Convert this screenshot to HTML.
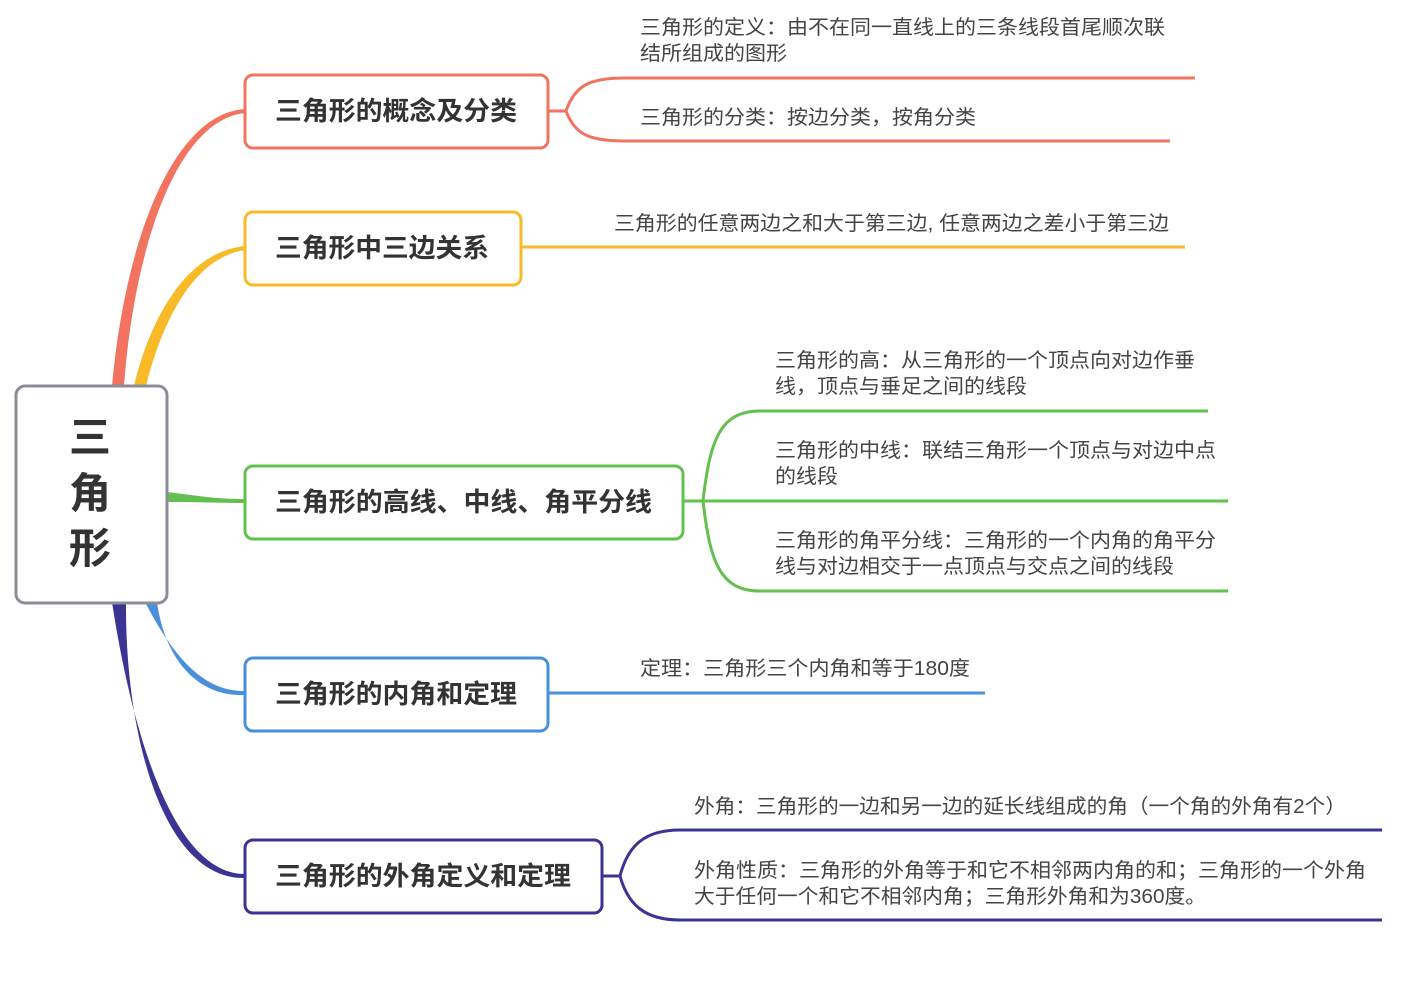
<!DOCTYPE html>
<html><head><meta charset="utf-8"><style>html,body{margin:0;padding:0;background:#fff}svg{display:block}</style></head><body>
<svg width="1402" height="988" viewBox="0 0 1402 988" xmlns="http://www.w3.org/2000/svg">
<style>
.t{font-family:"Liberation Sans","Noto Sans CJK SC",sans-serif;font-weight:bold;fill:#333;font-size:26px}
.d{font-family:"Liberation Sans","Noto Sans CJK SC",sans-serif;fill:#444;font-size:20px}
</style>
<!-- main connectors -->
<path d="M112,386 C124,250 170,114 245,109 L245,113 C176,120 134,250 124,386 Z" fill="#F2735F"/>
<path d="M134,386 C150,320 185,252 245,246 L245,250 C190,258 160,330 146,386 Z" fill="#F9BA27"/>
<path d="M167,492 C200,496 215,499 245,499 L245,503 C215,503 200,502 167,502 Z" fill="#63C04E"/>
<path d="M145,602 C170,650 200,692 245,691 L245,695 C198,697 165,660 157,602 Z" fill="#4A8FDB"/>
<path d="M112,602 C130,720 170,874 245,874 L245,878 C165,880 125,740 126,602 Z" fill="#3B3494"/>
<!-- root -->
<rect x="16" y="386" width="151" height="217" rx="9" fill="#fff" stroke="#8c8c99" stroke-width="3"/>
<text class="t" x="90" y="452" text-anchor="middle" style="font-size:42px">三</text>
<text class="t" x="90" y="508" text-anchor="middle" style="font-size:42px">角</text>
<text class="t" x="90" y="563" text-anchor="middle" style="font-size:42px">形</text>
<!-- branch boxes -->
<rect x="245" y="75" width="303" height="73" rx="8" fill="#fff" stroke="#F2735F" stroke-width="3"/>
<text class="t" x="275" y="120" textLength="242" lengthAdjust="spacingAndGlyphs">三角形的概念及分类</text>
<rect x="245" y="212" width="276" height="73" rx="8" fill="#fff" stroke="#F9BA27" stroke-width="3"/>
<text class="t" x="275" y="257" textLength="214" lengthAdjust="spacingAndGlyphs">三角形中三边关系</text>
<rect x="245" y="466" width="438" height="73" rx="8" fill="#fff" stroke="#63C04E" stroke-width="3"/>
<text class="t" x="275" y="511" textLength="377" lengthAdjust="spacingAndGlyphs">三角形的高线、中线、角平分线</text>
<rect x="245" y="658" width="303" height="73" rx="8" fill="#fff" stroke="#4A8FDB" stroke-width="3"/>
<text class="t" x="275" y="703" textLength="242" lengthAdjust="spacingAndGlyphs">三角形的内角和定理</text>
<rect x="245" y="840" width="357" height="73" rx="8" fill="#fff" stroke="#3B3494" stroke-width="3"/>
<text class="t" x="275" y="885" textLength="296" lengthAdjust="spacingAndGlyphs">三角形的外角定义和定理</text>
<!-- red sub -->
<g fill="none" stroke="#F2735F" stroke-width="3">
<path d="M549,111 H566 C575,85 590,78 625,78 H1195"/>
<path d="M566,111 C575,135 590,141 625,141 H1170"/>
</g>
<text class="d" x="640" y="34" textLength="525" lengthAdjust="spacingAndGlyphs">三角形的定义：由不在同一直线上的三条线段首尾顺次联</text>
<text class="d" x="640" y="60" textLength="147" lengthAdjust="spacingAndGlyphs">结所组成的图形</text>
<text class="d" x="640" y="124" textLength="336" lengthAdjust="spacingAndGlyphs">三角形的分类：按边分类，按角分类</text>
<!-- orange -->
<path d="M521,247 H1185" stroke="#F9BA27" stroke-width="3" fill="none"/>
<text class="d" x="614" y="230" textLength="555" lengthAdjust="spacingAndGlyphs">三角形的任意两边之和大于第三边, 任意两边之差小于第三边</text>
<!-- green -->
<g fill="none" stroke="#63C04E" stroke-width="3">
<path d="M684,501 H703 C710,440 720,411 760,411 H1208"/>
<path d="M703,501 H1228"/>
<path d="M703,501 C710,562 720,591 760,591 H1228"/>
</g>
<text class="d" x="775" y="367" textLength="420" lengthAdjust="spacingAndGlyphs">三角形的高：从三角形的一个顶点向对边作垂</text>
<text class="d" x="775" y="393" textLength="252" lengthAdjust="spacingAndGlyphs">线，顶点与垂足之间的线段</text>
<text class="d" x="775" y="457" textLength="441" lengthAdjust="spacingAndGlyphs">三角形的中线：联结三角形一个顶点与对边中点</text>
<text class="d" x="775" y="483" textLength="63" lengthAdjust="spacingAndGlyphs">的线段</text>
<text class="d" x="775" y="547" textLength="441" lengthAdjust="spacingAndGlyphs">三角形的角平分线：三角形的一个内角的角平分</text>
<text class="d" x="775" y="573" textLength="399" lengthAdjust="spacingAndGlyphs">线与对边相交于一点顶点与交点之间的线段</text>
<!-- blue -->
<path d="M548,693 H985" stroke="#4A8FDB" stroke-width="3" fill="none"/>
<text class="d" x="640" y="675" textLength="330" lengthAdjust="spacingAndGlyphs">定理：三角形三个内角和等于180度</text>
<!-- purple -->
<g fill="none" stroke="#3B3494" stroke-width="3">
<path d="M603,876 H620 C628,845 645,830 680,830 H1382"/>
<path d="M620,876 C628,905 645,920 680,920 H1382"/>
</g>
<text class="d" x="694" y="813" textLength="652" lengthAdjust="spacingAndGlyphs">外角：三角形的一边和另一边的延长线组成的角（一个角的外角有2个）</text>
<text class="d" x="694" y="877" textLength="672" lengthAdjust="spacingAndGlyphs">外角性质：三角形的外角等于和它不相邻两内角的和；三角形的一个外角</text>
<text class="d" x="694" y="903" textLength="512" lengthAdjust="spacingAndGlyphs">大于任何一个和它不相邻内角；三角形外角和为360度。</text>
</svg>
</body></html>
